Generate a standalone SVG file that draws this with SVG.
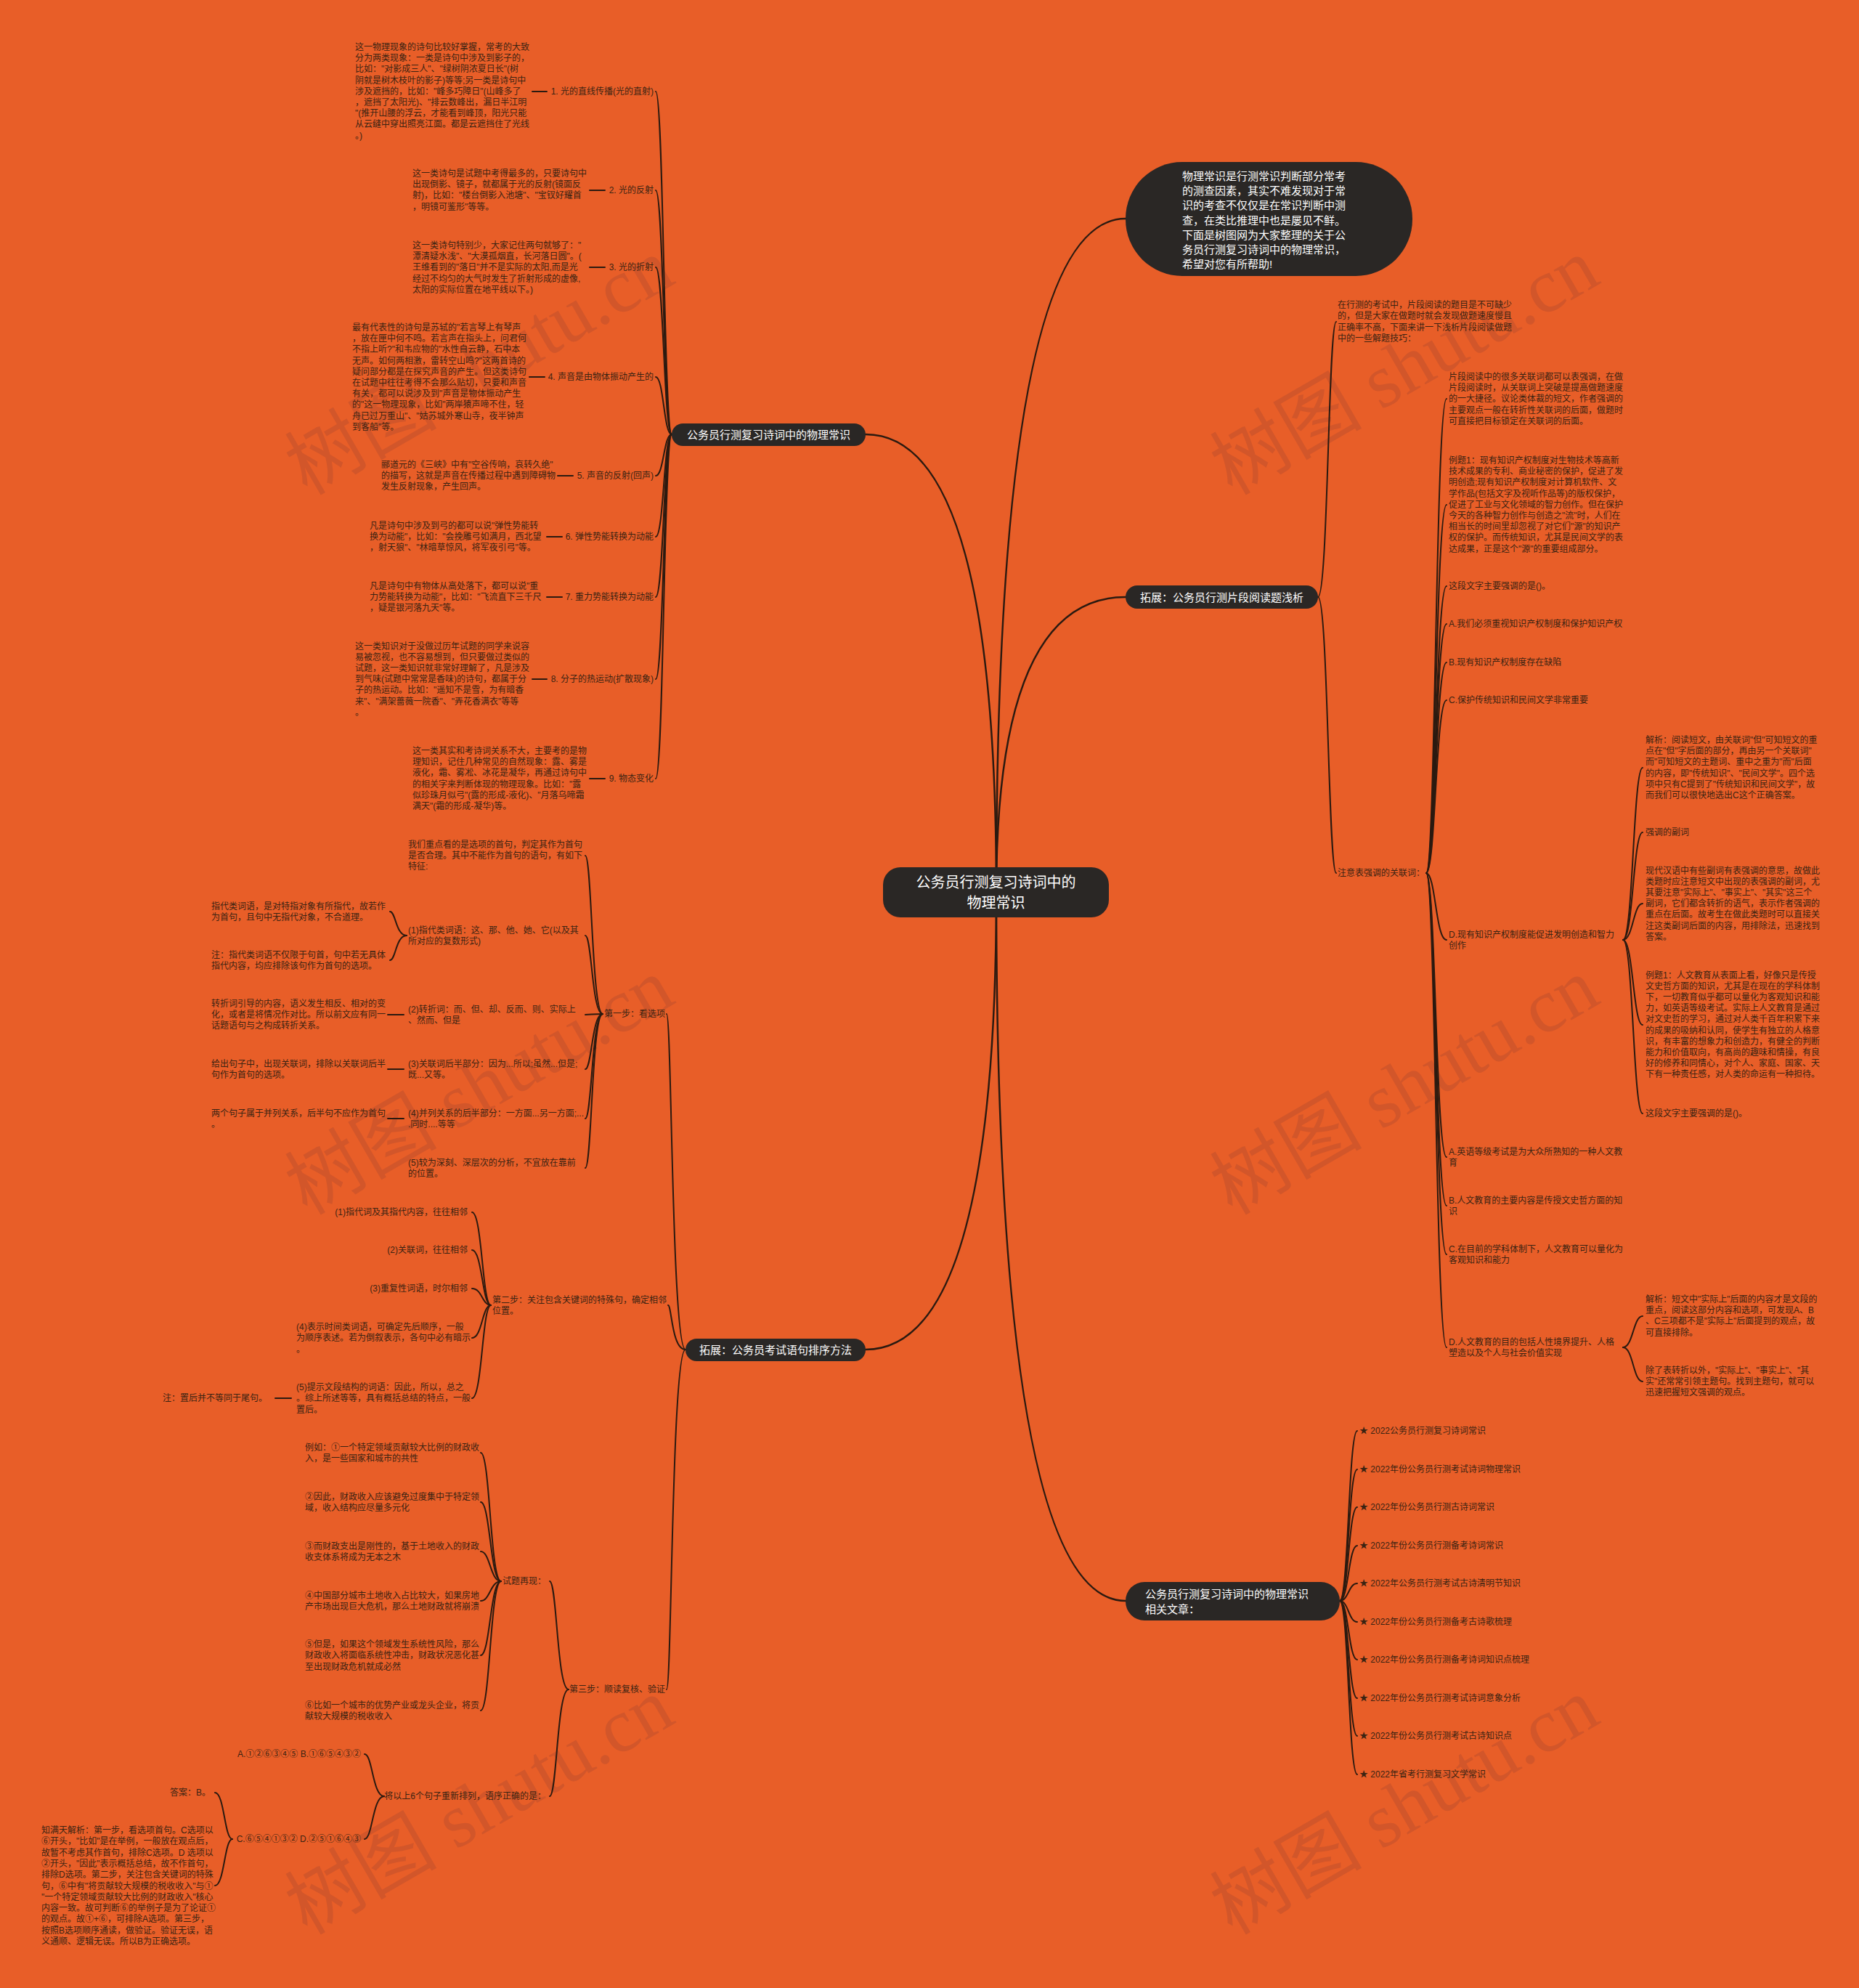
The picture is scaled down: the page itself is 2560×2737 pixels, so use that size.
<svg xmlns="http://www.w3.org/2000/svg" width="2560" height="2737" viewBox="0 0 2560 2737">
<style>
text{font-family:"Liberation Sans","Noto Sans CJK SC",sans-serif;dominant-baseline:central}
.t{font-size:12px;fill:#3a2312}
.w{font-size:15px;fill:#ffffff}
.cn{font-size:20px;fill:#ffffff}
.wm{font-family:"Liberation Serif","Noto Sans CJK SC",serif;font-size:105px;fill:#d2562a}
.ln{fill:none;stroke:#2b1a10;stroke-width:2;stroke-linecap:round}
.lm{stroke-width:2.5}
.pill{fill:#2a2725}
</style>
<rect width="2560" height="2737" fill="#e85e28"/>
<g id="watermarks">
<text class="wm" x="660" y="505" text-anchor="middle" transform="rotate(-30 660 505)">树图 shutu.cn</text>
<text class="wm" x="660" y="1496" text-anchor="middle" transform="rotate(-30 660 1496)">树图 shutu.cn</text>
<text class="wm" x="660" y="2487" text-anchor="middle" transform="rotate(-30 660 2487)">树图 shutu.cn</text>
<text class="wm" x="1934" y="505" text-anchor="middle" transform="rotate(-30 1934 505)">树图 shutu.cn</text>
<text class="wm" x="1934" y="1496" text-anchor="middle" transform="rotate(-30 1934 1496)">树图 shutu.cn</text>
<text class="wm" x="1934" y="2487" text-anchor="middle" transform="rotate(-30 1934 2487)">树图 shutu.cn</text>
</g>
<g id="connectors">
<path class="ln lm" d="M1372 1228 Q1372 301 1550 301"/>
<path class="ln lm" d="M1372 1228 Q1372 822 1550 822"/>
<path class="ln lm" d="M1372 1228 Q1372 2204 1550 2204"/>
<path class="ln lm" d="M1372 1228 Q1372 598 1192 598"/>
<path class="ln lm" d="M1372 1228 Q1372 1858 1192 1858"/>
<path class="ln" d="M925 598 C914 598 914 126 903 126"/>
<path class="ln" d="M925 598 C914 598 914 262 903 262"/>
<path class="ln" d="M925 598 C914 598 914 368 903 368"/>
<path class="ln" d="M925 598 C914 598 914 519 903 519"/>
<path class="ln" d="M925 598 C914 598 914 655 903 655"/>
<path class="ln" d="M925 598 C914 598 914 739 903 739"/>
<path class="ln" d="M925 598 C914 598 914 822 903 822"/>
<path class="ln" d="M925 598 C914 598 914 935 903 935"/>
<path class="ln" d="M925 598 C914 598 914 1072 903 1072"/>
<path class="ln" d="M733 126 H753 M812 262 H833 M812 368 H833 M729 519 H750 M768 655 H789 M753 739 H774 M753 822 H774 M733 935 H753 M812 1072 H833"/>
<path class="ln" d="M944 1858 C925 1858 925 1396 918 1396"/>
<path class="ln" d="M944 1858 C925 1858 925 1797 920 1797"/>
<path class="ln" d="M944 1858 C925 1858 925 2326 918 2326"/>
<path class="ln" d="M830 1396 C815 1396 815 1178 806 1178"/>
<path class="ln" d="M830 1396 C815 1396 815 1288 806 1288"/>
<path class="ln" d="M830 1396 C815 1396 815 1397 806 1397"/>
<path class="ln" d="M830 1396 C815 1396 815 1472 806 1472"/>
<path class="ln" d="M830 1396 C815 1396 815 1540 806 1540"/>
<path class="ln" d="M830 1396 C815 1396 815 1608 806 1608"/>
<path class="ln" d="M560 1288 C545 1288 545 1255 537 1255"/>
<path class="ln" d="M560 1288 C545 1288 545 1322 537 1322"/>
<path class="ln" d="M534 1397 H556 M534 1472 H556 M534 1540 H556"/>
<path class="ln" d="M676 1797 C664 1797 664 1669 650 1669"/>
<path class="ln" d="M676 1797 C664 1797 664 1721 650 1721"/>
<path class="ln" d="M676 1797 C664 1797 664 1774 650 1774"/>
<path class="ln" d="M676 1797 C664 1797 664 1842 650 1842"/>
<path class="ln" d="M676 1797 C664 1797 664 1925 650 1925"/>
<path class="ln" d="M379 1925 H401"/>
<path class="ln" d="M783 2326 C767 2326 767 2177 757 2177"/>
<path class="ln" d="M783 2326 C767 2326 767 2473 757 2473"/>
<path class="ln" d="M690 2177 C675 2177 675 2000 662 2000"/>
<path class="ln" d="M690 2177 C675 2177 675 2068 662 2068"/>
<path class="ln" d="M690 2177 C675 2177 675 2136 662 2136"/>
<path class="ln" d="M690 2177 C675 2177 675 2204 662 2204"/>
<path class="ln" d="M690 2177 C675 2177 675 2279 662 2279"/>
<path class="ln" d="M690 2177 C675 2177 675 2355 662 2355"/>
<path class="ln" d="M529 2473 C513 2473 513 2415 502 2415"/>
<path class="ln" d="M529 2473 C513 2473 513 2532 502 2532"/>
<path class="ln" d="M320 2532 C309 2532 309 2468 296 2468"/>
<path class="ln" d="M320 2532 C309 2532 309 2596 296 2596"/>
<path class="ln" d="M1815 822 C1829 822 1829 443 1840 443"/>
<path class="ln" d="M1815 822 C1829 822 1829 1202 1840 1202"/>
<path class="ln" d="M1964 1202 C1977 1202 1977 549 1992 549"/>
<path class="ln" d="M1964 1202 C1977 1202 1977 695 1992 695"/>
<path class="ln" d="M1964 1202 C1977 1202 1977 807 1992 807"/>
<path class="ln" d="M1964 1202 C1977 1202 1977 859 1992 859"/>
<path class="ln" d="M1964 1202 C1977 1202 1977 912 1992 912"/>
<path class="ln" d="M1964 1202 C1977 1202 1977 964 1992 964"/>
<path class="ln" d="M1964 1202 C1977 1202 1977 1294 1992 1294"/>
<path class="ln" d="M1964 1202 C1977 1202 1977 1593 1992 1593"/>
<path class="ln" d="M1964 1202 C1977 1202 1977 1660 1992 1660"/>
<path class="ln" d="M1964 1202 C1977 1202 1977 1727 1992 1727"/>
<path class="ln" d="M1964 1202 C1977 1202 1977 1855 1992 1855"/>
<path class="ln" d="M2235 1294 C2249 1294 2249 1057 2262 1057"/>
<path class="ln" d="M2235 1294 C2249 1294 2249 1146 2262 1146"/>
<path class="ln" d="M2235 1294 C2249 1294 2249 1244 2262 1244"/>
<path class="ln" d="M2235 1294 C2249 1294 2249 1411 2262 1411"/>
<path class="ln" d="M2235 1294 C2249 1294 2249 1533 2262 1533"/>
<path class="ln" d="M2235 1855 C2249 1855 2249 1812 2262 1812"/>
<path class="ln" d="M2235 1855 C2249 1855 2249 1902 2262 1902"/>
<path class="ln" d="M1845 2204 C1857 2204 1857 1970 1869 1970"/>
<path class="ln" d="M1845 2204 C1857 2204 1857 2023 1869 2023"/>
<path class="ln" d="M1845 2204 C1857 2204 1857 2075 1869 2075"/>
<path class="ln" d="M1845 2204 C1857 2204 1857 2128 1869 2128"/>
<path class="ln" d="M1845 2204 C1857 2204 1857 2180 1869 2180"/>
<path class="ln" d="M1845 2204 C1857 2204 1857 2233 1869 2233"/>
<path class="ln" d="M1845 2204 C1857 2204 1857 2285 1869 2285"/>
<path class="ln" d="M1845 2204 C1857 2204 1857 2338 1869 2338"/>
<path class="ln" d="M1845 2204 C1857 2204 1857 2390 1869 2390"/>
<path class="ln" d="M1845 2204 C1857 2204 1857 2443 1869 2443"/>
</g>
<g id="center">
<rect class="pill" x="1216" y="1194" width="311" height="69" rx="24"/>
<text class="cn" x="1371.5" y="1215" text-anchor="middle">公务员行测复习诗词中的</text>
<text class="cn" x="1371.5" y="1243" text-anchor="middle">物理常识</text>
</g>
<g id="intro">
<rect class="pill" x="1550" y="223" width="395" height="157" rx="78"/>
<text class="w" x="1628" y="242"><tspan x="1628" dy="0">物理常识是行测常识判断部分常考</tspan><tspan x="1628" dy="20.2">的测查因素，其实不难发现对于常</tspan><tspan x="1628" dy="20.2">识的考查不仅仅是在常识判断中测</tspan><tspan x="1628" dy="20.2">查，在类比推理中也是屡见不鲜。</tspan><tspan x="1628" dy="20.2">下面是树图网为大家整理的关于公</tspan><tspan x="1628" dy="20.2">务员行测复习诗词中的物理常识，</tspan><tspan x="1628" dy="20.2">希望对您有所帮助!</tspan></text>
</g>
<g id="b1">
<rect class="pill" x="925" y="583" width="267" height="31" rx="15.5"/>
<text class="w" x="1058.5" y="598.5" text-anchor="middle">公务员行测复习诗词中的物理常识</text>
</g>
<g id="b1-labels">
<text class="t" x="900" y="126" text-anchor="end">1. 光的直线传播(光的直射)</text>
<text class="t" x="900" y="262" text-anchor="end">2. 光的反射</text>
<text class="t" x="900" y="368" text-anchor="end">3. 光的折射</text>
<text class="t" x="900" y="519" text-anchor="end">4. 声音是由物体振动产生的</text>
<text class="t" x="900" y="655" text-anchor="end">5. 声音的反射(回声)</text>
<text class="t" x="900" y="739" text-anchor="end">6. 弹性势能转换为动能</text>
<text class="t" x="900" y="822" text-anchor="end">7. 重力势能转换为动能</text>
<text class="t" x="900" y="935" text-anchor="end">8. 分子的热运动(扩散现象)</text>
<text class="t" x="900" y="1072" text-anchor="end">9. 物态变化</text>
</g>
<g id="b1-desc1"><text class="t" x="489" y="65"><tspan x="489" dy="0">这一物理现象的诗句比较好掌握，常考的大致</tspan><tspan x="489" dy="15.2">分为两类现象：一类是诗句中涉及到影子的，</tspan><tspan x="489" dy="15.2">比如："对影成三人"、"绿树阴浓夏日长"(树</tspan><tspan x="489" dy="15.2">阴就是树木枝叶的影子)等等;另一类是诗句中</tspan><tspan x="489" dy="15.2">涉及遮挡的，比如："峰多巧障日"(山峰多了</tspan><tspan x="489" dy="15.2">，遮挡了太阳光)、"排云数峰出，漏日半江明</tspan><tspan x="489" dy="15.2">"(推开山腰的浮云，才能看到峰顶，阳光只能</tspan><tspan x="489" dy="15.2">从云缝中穿出照亮江面。都是云遮挡住了光线</tspan><tspan x="489" dy="15.2">。)</tspan></text></g>
<g id="b1-desc2"><text class="t" x="568" y="239"><tspan x="568" dy="0">这一类诗句是试题中考得最多的，只要诗句中</tspan><tspan x="568" dy="15.2">出现倒影、镜子，就都属于光的反射(镜面反</tspan><tspan x="568" dy="15.2">射)，比如："楼台倒影入池塘"、"宝钗好耀首</tspan><tspan x="568" dy="15.2">，明镜可鉴形"等等。</tspan></text></g>
<g id="b1-desc3"><text class="t" x="568" y="338"><tspan x="568" dy="0">这一类诗句特别少，大家记住两句就够了："</tspan><tspan x="568" dy="15.2">潭清疑水浅"、"大漠孤烟直，长河落日圆"。(</tspan><tspan x="568" dy="15.2">王维看到的"落日"并不是实际的太阳,而是光</tspan><tspan x="568" dy="15.2">经过不均匀的大气时发生了折射形成的虚像,</tspan><tspan x="568" dy="15.2">太阳的实际位置在地平线以下。)</tspan></text></g>
<g id="b1-desc4"><text class="t" x="485" y="451"><tspan x="485" dy="0">最有代表性的诗句是苏轼的"若言琴上有琴声</tspan><tspan x="485" dy="15.2">，放在匣中何不鸣。若言声在指头上，问君何</tspan><tspan x="485" dy="15.2">不指上听?"和韦应物的"水性自云静，石中本</tspan><tspan x="485" dy="15.2">无声。如何两相激，雷转空山鸣?"这两首诗的</tspan><tspan x="485" dy="15.2">疑问部分都是在探究声音的产生。但这类诗句</tspan><tspan x="485" dy="15.2">在试题中往往考得不会那么贴切，只要和声音</tspan><tspan x="485" dy="15.2">有关，都可以说涉及到"声音是物体振动产生</tspan><tspan x="485" dy="15.2">的"这一物理现象，比如"两岸猿声啼不住，轻</tspan><tspan x="485" dy="15.2">舟已过万重山"、"姑苏城外寒山寺，夜半钟声</tspan><tspan x="485" dy="15.2">到客船"等。</tspan></text></g>
<g id="b1-desc5"><text class="t" x="525" y="640"><tspan x="525" dy="0">郦道元的《三峡》中有"空谷传响，哀转久绝"</tspan><tspan x="525" dy="15.2">的描写，这就是声音在传播过程中遇到障碍物</tspan><tspan x="525" dy="15.2">发生反射现象，产生回声。</tspan></text></g>
<g id="b1-desc6"><text class="t" x="509" y="724"><tspan x="509" dy="0">凡是诗句中涉及到弓的都可以说"弹性势能转</tspan><tspan x="509" dy="15.2">换为动能"，比如："会挽雕弓如满月，西北望</tspan><tspan x="509" dy="15.2">，射天狼"、"林暗草惊风，将军夜引弓"等。</tspan></text></g>
<g id="b1-desc7"><text class="t" x="509" y="807"><tspan x="509" dy="0">凡是诗句中有物体从高处落下，都可以说"重</tspan><tspan x="509" dy="15.2">力势能转换为动能"，比如："飞流直下三千尺</tspan><tspan x="509" dy="15.2">，疑是银河落九天"等。</tspan></text></g>
<g id="b1-desc8"><text class="t" x="489" y="889.5"><tspan x="489" dy="0">这一类知识对于没做过历年试题的同学来说容</tspan><tspan x="489" dy="15.2">易被忽视，也不容易想到，但只要做过类似的</tspan><tspan x="489" dy="15.2">试题，这一类知识就非常好理解了，凡是涉及</tspan><tspan x="489" dy="15.2">到气味(试题中常常是香味)的诗句，都属于分</tspan><tspan x="489" dy="15.2">子的热运动。比如："遥知不是雪，为有暗香</tspan><tspan x="489" dy="15.2">来"、"满架蔷薇一院香"、"弄花香满衣"等等</tspan><tspan x="489" dy="15.2">。</tspan></text></g>
<g id="b1-desc9"><text class="t" x="568" y="1034"><tspan x="568" dy="0">这一类其实和考诗词关系不大，主要考的是物</tspan><tspan x="568" dy="15.2">理知识，记住几种常见的自然现象：露、雾是</tspan><tspan x="568" dy="15.2">液化，霜、雾凇、冰花是凝华，再通过诗句中</tspan><tspan x="568" dy="15.2">的相关字来判断体现的物理现象。比如："露</tspan><tspan x="568" dy="15.2">似珍珠月似弓"(露的形成-液化)、"月落乌啼霜</tspan><tspan x="568" dy="15.2">满天"(霜的形成-凝华)等。</tspan></text></g>
<g id="b3">
<rect class="pill" x="944" y="1843" width="248" height="31" rx="15.5"/>
<text class="w" x="1068" y="1858.5" text-anchor="middle">拓展：公务员考试语句排序方法</text>
</g>
<g id="step1">
<text class="t" x="916" y="1396" text-anchor="end">第一步：看选项</text>
<text class="t" x="562" y="1163"><tspan x="562" dy="0">我们重点看的是选项的首句，判定其作为首句</tspan><tspan x="562" dy="15.2">是否合理。其中不能作为首句的语句，有如下</tspan><tspan x="562" dy="15.2">特征:</tspan></text>
<text class="t" x="562" y="1281"><tspan x="562" dy="0">(1)指代类词语：这、那、他、她、它(以及其</tspan><tspan x="562" dy="15.2">所对应的复数形式)</tspan></text>
<text class="t" x="562" y="1389.5"><tspan x="562" dy="0">(2)转折词：而、但、却、反而、则、实际上</tspan><tspan x="562" dy="15.2">、然而、但是</tspan></text>
<text class="t" x="562" y="1464.5"><tspan x="562" dy="0">(3)关联词后半部分：因为...所以;虽然...但是;</tspan><tspan x="562" dy="15.2">既...又等。</tspan></text>
<text class="t" x="562" y="1532.5"><tspan x="562" dy="0">(4)并列关系的后半部分：一方面...另一方面;...</tspan><tspan x="562" dy="15.2">.同时....等等</tspan></text>
<text class="t" x="562" y="1600.5"><tspan x="562" dy="0">(5)较为深刻、深层次的分析，不宜放在靠前</tspan><tspan x="562" dy="15.2">的位置。</tspan></text>
<text class="t" x="291" y="1247.5"><tspan x="291" dy="0">指代类词语，是对特指对象有所指代，故若作</tspan><tspan x="291" dy="15.2">为首句，且句中无指代对象，不合道理。</tspan></text>
<text class="t" x="291" y="1314.5"><tspan x="291" dy="0">注：指代类词语不仅限于句首，句中若无具体</tspan><tspan x="291" dy="15.2">指代内容，均应排除该句作为首句的选项。</tspan></text>
<text class="t" x="291" y="1382"><tspan x="291" dy="0">转折词引导的内容，语义发生相反、相对的变</tspan><tspan x="291" dy="15.2">化，或者是将情况作对比。所以前文应有同一</tspan><tspan x="291" dy="15.2">话题语句与之构成转折关系。</tspan></text>
<text class="t" x="291" y="1464.5"><tspan x="291" dy="0">给出句子中，出现关联词，排除以关联词后半</tspan><tspan x="291" dy="15.2">句作为首句的选项。</tspan></text>
<text class="t" x="291" y="1532.5"><tspan x="291" dy="0">两个句子属于并列关系，后半句不应作为首句</tspan><tspan x="291" dy="15.2">。</tspan></text>
</g>
<g id="step2">
<text class="t" x="678" y="1789.5"><tspan x="678" dy="0">第二步：关注包含关键词的特殊句，确定相邻</tspan><tspan x="678" dy="15.2">位置。</tspan></text>
<text class="t" x="644" y="1669" text-anchor="end">(1)指代词及其指代内容，往往相邻</text>
<text class="t" x="644" y="1721" text-anchor="end">(2)关联词，往往相邻</text>
<text class="t" x="644" y="1774" text-anchor="end">(3)重复性词语，时尔相邻</text>
<text class="t" x="408" y="1827"><tspan x="408" dy="0">(4)表示时间类词语，可确定先后顺序，一般</tspan><tspan x="408" dy="15.3">为顺序表述。若为倒叙表示，各句中必有暗示</tspan><tspan x="408" dy="15.3">。</tspan></text>
<text class="t" x="408" y="1909.5"><tspan x="408" dy="0">(5)提示文段结构的词语：因此，所以，总之</tspan><tspan x="408" dy="15.5">。综上所述等等，具有概括总结的特点，一般</tspan><tspan x="408" dy="15.5">置后。</tspan></text>
<text class="t" x="368" y="1925" text-anchor="end">注：置后并不等同于尾句。</text>
</g>
<g id="step3">
<text class="t" x="916" y="2326" text-anchor="end">第三步：顺读复核、验证</text>
<text class="t" x="692" y="2177">试题再现：</text>
<text class="t" x="420" y="1992.5"><tspan x="420" dy="0">例如：①一个特定领域贡献较大比例的财政收</tspan><tspan x="420" dy="15.5">入，是一些国家和城市的共性</tspan></text>
<text class="t" x="420" y="2060.5"><tspan x="420" dy="0">②因此，财政收入应该避免过度集中于特定领</tspan><tspan x="420" dy="15.5">域，收入结构应尽量多元化</tspan></text>
<text class="t" x="420" y="2128.5"><tspan x="420" dy="0">③而财政支出是刚性的，基于土地收入的财政</tspan><tspan x="420" dy="15.5">收支体系将成为无本之木</tspan></text>
<text class="t" x="420" y="2196.5"><tspan x="420" dy="0">④中国部分城市土地收入占比较大，如果房地</tspan><tspan x="420" dy="15.5">产市场出现巨大危机，那么土地财政就将崩溃</tspan></text>
<text class="t" x="420" y="2263.5"><tspan x="420" dy="0">⑤但是，如果这个领域发生系统性风险，那么</tspan><tspan x="420" dy="15.5">财政收入将面临系统性冲击，财政状况恶化甚</tspan><tspan x="420" dy="15.5">至出现财政危机就成必然</tspan></text>
<text class="t" x="420" y="2347.5"><tspan x="420" dy="0">⑥比如一个城市的优势产业或龙头企业，将贡</tspan><tspan x="420" dy="15.5">献较大规模的税收收入</tspan></text>
<text class="t" x="752" y="2473" text-anchor="end">将以上6个句子重新排列，语序正确的是：</text>
<text class="t" x="497" y="2415" text-anchor="end">A.①②⑥③④⑤ B.①⑥⑤④③②</text>
<text class="t" x="497" y="2532" text-anchor="end">C.⑥⑤④①③② D.②⑤①⑥④③</text>
<text class="t" x="290" y="2468" text-anchor="end">答案：B。</text>
<text class="t" x="57" y="2520"><tspan x="57" dy="0">知满天解析：第一步，看选项首句。C选项以</tspan><tspan x="57" dy="15.3">⑥开头，"比如"是在举例，一般放在观点后，</tspan><tspan x="57" dy="15.3">故暂不考虑其作首句，排除C选项。D 选项以</tspan><tspan x="57" dy="15.3">②开头，"因此"表示概括总结，故不作首句，</tspan><tspan x="57" dy="15.3">排除D选项。第二步，关注包含关键词的特殊</tspan><tspan x="57" dy="15.3">句，⑥中有"将贡献较大规模的税收收入"与①</tspan><tspan x="57" dy="15.3">"一个特定领域贡献较大比例的财政收入"核心</tspan><tspan x="57" dy="15.3">内容一致。故可判断⑥的举例子是为了论证①</tspan><tspan x="57" dy="15.3">的观点。故①+⑥，可排除A选项。第三步，</tspan><tspan x="57" dy="15.3">按照B选项顺序通读，做验证。验证无误，语</tspan><tspan x="57" dy="15.3">义通顺、逻辑无误。所以B为正确选项。</tspan></text>
</g>
<g id="b2">
<rect class="pill" x="1550" y="806" width="265" height="32" rx="16"/>
<text class="w" x="1682.5" y="822" text-anchor="middle">拓展：公务员行测片段阅读题浅析</text>
</g>
<g id="b2-children">
<text class="t" x="1842" y="420"><tspan x="1842" dy="0">在行测的考试中，片段阅读的题目是不可缺少</tspan><tspan x="1842" dy="15.3">的，但是大家在做题时就会发现做题速度慢且</tspan><tspan x="1842" dy="15.3">正确率不高，下面来讲一下浅析片段阅读做题</tspan><tspan x="1842" dy="15.3">中的一些解题技巧：</tspan></text>
<text class="t" x="1842" y="1202">注意表强调的关联词：</text>
<text class="t" x="1995" y="519"><tspan x="1995" dy="0">片段阅读中的很多关联词都可以表强调，在做</tspan><tspan x="1995" dy="15.2">片段阅读时，从关联词上突破是提高做题速度</tspan><tspan x="1995" dy="15.2">的一大捷径。议论类体裁的短文，作者强调的</tspan><tspan x="1995" dy="15.2">主要观点一般在转折性关联词的后面，做题时</tspan><tspan x="1995" dy="15.2">可直接把目标锁定在关联词的后面。</tspan></text>
<text class="t" x="1995" y="634"><tspan x="1995" dy="0">例题1：现有知识产权制度对生物技术等高新</tspan><tspan x="1995" dy="15.2">技术成果的专利、商业秘密的保护，促进了发</tspan><tspan x="1995" dy="15.2">明创造;现有知识产权制度对计算机软件、文</tspan><tspan x="1995" dy="15.2">学作品(包括文字及视听作品等)的版权保护，</tspan><tspan x="1995" dy="15.2">促进了工业与文化领域的智力创作。但在保护</tspan><tspan x="1995" dy="15.2">今天的各种智力创作与创造之"流"时，人们在</tspan><tspan x="1995" dy="15.2">相当长的时间里却忽视了对它们"源"的知识产</tspan><tspan x="1995" dy="15.2">权的保护。而传统知识，尤其是民间文学的表</tspan><tspan x="1995" dy="15.2">达成果，正是这个"源"的重要组成部分。</tspan></text>
<text class="t" x="1995" y="807">这段文字主要强调的是()。</text>
<text class="t" x="1995" y="859">A.我们必须重视知识产权制度和保护知识产权</text>
<text class="t" x="1995" y="912">B.现有知识产权制度存在缺陷</text>
<text class="t" x="1995" y="964">C.保护传统知识和民间文学非常重要</text>
<text class="t" x="1995" y="1287"><tspan x="1995" dy="0">D.现有知识产权制度能促进发明创造和智力</tspan><tspan x="1995" dy="15.2">创作</tspan></text>
<text class="t" x="1995" y="1586"><tspan x="1995" dy="0">A.英语等级考试是为大众所熟知的一种人文教</tspan><tspan x="1995" dy="15.2">育</tspan></text>
<text class="t" x="1995" y="1653"><tspan x="1995" dy="0">B.人文教育的主要内容是传授文史哲方面的知</tspan><tspan x="1995" dy="15.2">识</tspan></text>
<text class="t" x="1995" y="1720"><tspan x="1995" dy="0">C.在目前的学科体制下，人文教育可以量化为</tspan><tspan x="1995" dy="15.2">客观知识和能力</tspan></text>
<text class="t" x="1995" y="1848"><tspan x="1995" dy="0">D.人文教育的目的包括人性境界提升、人格</tspan><tspan x="1995" dy="15.2">塑造以及个人与社会价值实现</tspan></text>
<text class="t" x="2266" y="1019"><tspan x="2266" dy="0">解析：阅读短文，由关联词"但"可知短文的重</tspan><tspan x="2266" dy="15.2">点在"但"字后面的部分，再由另一个关联词"</tspan><tspan x="2266" dy="15.2">而"可知短文的主题词、重中之重为"而"后面</tspan><tspan x="2266" dy="15.2">的内容，即"传统知识"、"民间文学"。四个选</tspan><tspan x="2266" dy="15.2">项中只有C提到了"传统知识和民间文学"，故</tspan><tspan x="2266" dy="15.2">而我们可以很快地选出C这个正确答案。</tspan></text>
<text class="t" x="2266" y="1146">强调的副词</text>
<text class="t" x="2266" y="1198.5"><tspan x="2266" dy="0">现代汉语中有些副词有表强调的意思，故做此</tspan><tspan x="2266" dy="15.2">类题时应注意短文中出现的表强调的副词，尤</tspan><tspan x="2266" dy="15.2">其要注意"实际上"、"事实上"、"其实"这三个</tspan><tspan x="2266" dy="15.2">副词，它们都含转折的语气，表示作者强调的</tspan><tspan x="2266" dy="15.2">重点在后面。故考生在做此类题时可以直接关</tspan><tspan x="2266" dy="15.2">注这类副词后面的内容，用排除法，迅速找到</tspan><tspan x="2266" dy="15.2">答案。</tspan></text>
<text class="t" x="2266" y="1342.5"><tspan x="2266" dy="0">例题1：人文教育从表面上看，好像只是传授</tspan><tspan x="2266" dy="15.2">文史哲方面的知识，尤其是在现在的学科体制</tspan><tspan x="2266" dy="15.2">下，一切教育似乎都可以量化为客观知识和能</tspan><tspan x="2266" dy="15.2">力，如英语等级考试。实际上人文教育是通过</tspan><tspan x="2266" dy="15.2">对文史哲的学习，通过对人类千百年积累下来</tspan><tspan x="2266" dy="15.2">的成果的吸纳和认同，使学生有独立的人格意</tspan><tspan x="2266" dy="15.2">识，有丰富的想象力和创造力，有健全的判断</tspan><tspan x="2266" dy="15.2">能力和价值取向，有高尚的趣味和情操，有良</tspan><tspan x="2266" dy="15.2">好的修养和同情心，对个人、家庭、国家、天</tspan><tspan x="2266" dy="15.2">下有一种责任感，对人类的命运有一种担待。</tspan></text>
<text class="t" x="2266" y="1533">这段文字主要强调的是()。</text>
<text class="t" x="2266" y="1789"><tspan x="2266" dy="0">解析：短文中"实际上"后面的内容才是文段的</tspan><tspan x="2266" dy="15.2">重点，阅读这部分内容和选项，可发现A、B</tspan><tspan x="2266" dy="15.2">、C三项都不是"实际上"后面提到的观点，故</tspan><tspan x="2266" dy="15.2">可直接排除。</tspan></text>
<text class="t" x="2266" y="1887"><tspan x="2266" dy="0">除了表转折以外，"实际上"、"事实上"、"其</tspan><tspan x="2266" dy="15.2">实"还常常引领主题句。找到主题句，就可以</tspan><tspan x="2266" dy="15.2">迅速把握短文强调的观点。</tspan></text>
</g>
<g id="b4">
<rect class="pill" x="1550" y="2178" width="295" height="53" rx="26"/>
<text class="w" x="1577" y="2194.5">公务员行测复习诗词中的物理常识</text>
<text class="w" x="1577" y="2215.5">相关文章：</text>
</g>
<g id="b4-items">
<text class="t" x="1872" y="1970">★ 2022公务员行测复习诗词常识</text>
<text class="t" x="1872" y="2023">★ 2022年份公务员行测考试诗词物理常识</text>
<text class="t" x="1872" y="2075">★ 2022年份公务员行测古诗词常识</text>
<text class="t" x="1872" y="2128">★ 2022年份公务员行测备考诗词常识</text>
<text class="t" x="1872" y="2180">★ 2022年公务员行测考试古诗清明节知识</text>
<text class="t" x="1872" y="2233">★ 2022年份公务员行测备考古诗歌梳理</text>
<text class="t" x="1872" y="2285">★ 2022年份公务员行测备考诗词知识点梳理</text>
<text class="t" x="1872" y="2338">★ 2022年份公务员行测考试诗词意象分析</text>
<text class="t" x="1872" y="2390">★ 2022年份公务员行测考试古诗知识点</text>
<text class="t" x="1872" y="2443">★ 2022年省考行测复习文学常识</text>
</g>
</svg>
